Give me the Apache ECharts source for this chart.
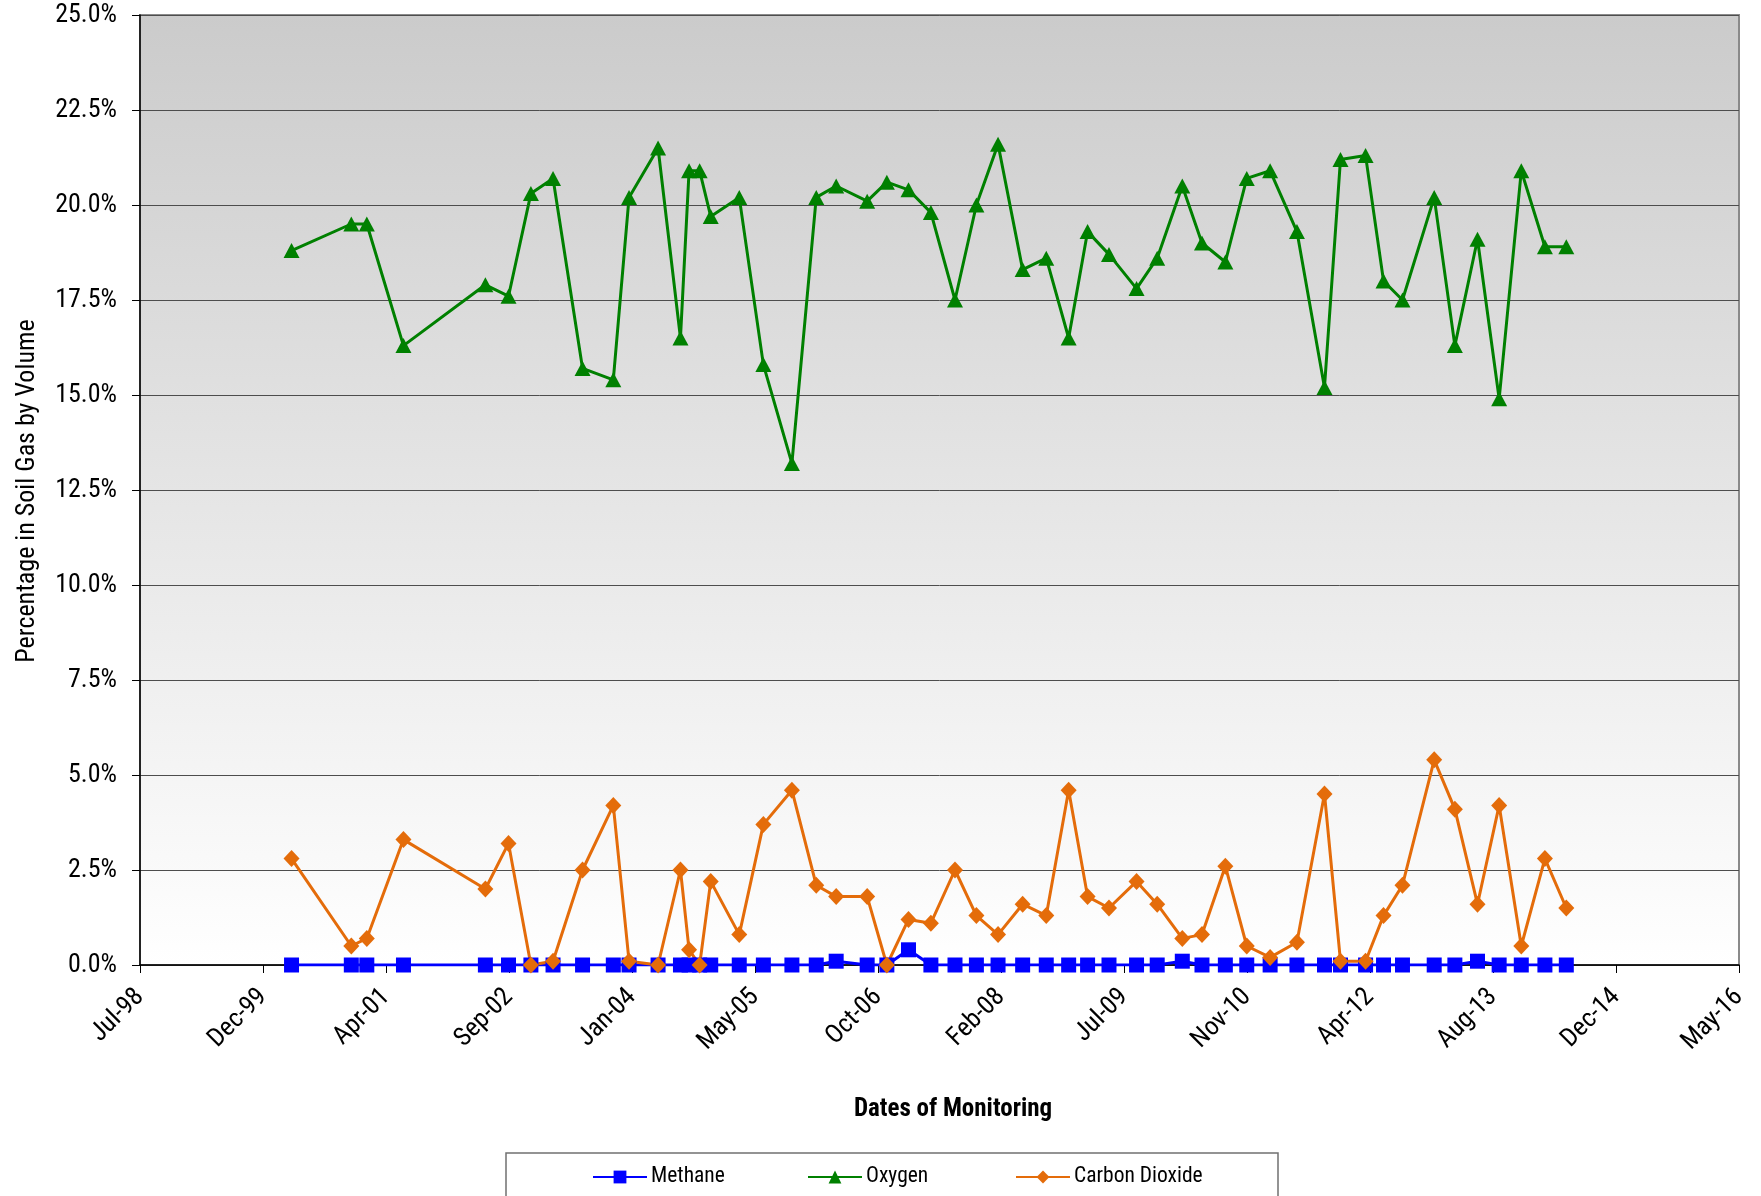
<!DOCTYPE html>
<html>
<head>
<meta charset="utf-8">
<title>Soil Gas Monitoring</title>
<script src="https://cdn.jsdelivr.net/npm/echarts@6/dist/echarts.min.js"></script>
<style>
  html, body { margin: 0; padding: 0; background: #ffffff; }
  #chart { width: 1761px; height: 1196px; }
</style>
</head>
<body>
<div id="chart"></div>
<script>
// Monitoring dates (one sampling event per entry)
const monitoringDates = [
  '2000-03-31', '2000-11-29', '2001-01-31', '2001-06-29', '2002-05-28', '2002-08-30',
  '2002-11-29', '2003-02-27', '2003-06-27', '2003-10-30', '2004-01-02', '2004-04-29',
  '2004-07-29', '2004-09-02', '2004-10-15', '2004-11-29', '2005-03-25', '2005-07-01',
  '2005-10-25', '2006-02-01', '2006-04-23', '2006-08-27', '2006-11-15', '2007-02-11',
  '2007-05-13', '2007-08-19', '2007-11-14', '2008-02-10', '2008-05-20', '2008-08-24',
  '2008-11-23', '2009-02-08', '2009-05-06', '2009-08-26', '2009-11-18', '2010-02-28',
  '2010-05-19', '2010-08-22', '2010-11-17', '2011-02-20', '2011-06-09', '2011-09-29',
  '2011-12-03', '2012-03-14', '2012-05-26', '2012-08-11', '2012-12-18', '2013-03-12',
  '2013-06-12', '2013-09-08', '2013-12-07', '2014-03-13', '2014-06-08'
];

// Percentage by volume
const methane = [
  0, 0, 0, 0, 0, 0, 0, 0, 0, 0, 0, 0, 0, 0, 0, 0, 0, 0,
  0, 0, 0.1, 0, 0, 0.4, 0, 0, 0, 0, 0, 0, 0, 0, 0, 0, 0, 0.1,
  0, 0, 0, 0, 0, 0, 0, 0, 0, 0, 0, 0, 0.1, 0, 0, 0, 0
];
const oxygen = [
  18.8, 19.5, 19.5, 16.3, 17.9, 17.6, 20.3, 20.7, 15.7, 15.4, 20.2, 21.5,
  16.5, 20.9, 20.9, 19.7, 20.2, 15.8, 13.2, 20.2, 20.5, 20.1, 20.6, 20.4,
  19.8, 17.5, 20.0, 21.6, 18.3, 18.6, 16.5, 19.3, 18.7, 17.8, 18.6, 20.5,
  19.0, 18.5, 20.7, 20.9, 19.3, 15.2, 21.2, 21.3, 18.0, 17.5, 20.2, 16.3,
  19.1, 14.9, 20.9, 18.9, 18.9
];
const carbonDioxide = [
  2.8, 0.5, 0.7, 3.3, 2.0, 3.2, 0.0, 0.1, 2.5, 4.2, 0.1, 0.0,
  2.5, 0.4, 0.0, 2.2, 0.8, 3.7, 4.6, 2.1, 1.8, 1.8, 0.0, 1.2,
  1.1, 2.5, 1.3, 0.8, 1.6, 1.3, 4.6, 1.8, 1.5, 2.2, 1.6, 0.7,
  0.8, 2.6, 0.5, 0.2, 0.6, 4.5, 0.1, 0.1, 1.3, 2.1, 5.4, 4.1,
  1.6, 4.2, 0.5, 2.8, 1.5
];

// Date axis, in spreadsheet serial days
const xAxisMin = 36000;
const xAxisMax = 42500;
const xAxisStep = 500;
const yAxisMin = 0;
const yAxisMax = 25;
const yAxisStep = 2.5;

const seriesNames = ['Methane', 'Oxygen', 'Carbon Dioxide'];
const xAxisTitle = 'Dates of Monitoring';
const yAxisTitle = 'Percentage in Soil Gas by Volume';

const MONTHS = ['Jan', 'Feb', 'Mar', 'Apr', 'May', 'Jun', 'Jul', 'Aug', 'Sep', 'Oct', 'Nov', 'Dec'];
const SERIAL_EPOCH = 25569; // serial day of 1970-01-01
const DAY_MS = 86400000;

function toSerial(iso) {
  const p = iso.split('-').map(Number);
  return Date.UTC(p[0], p[1] - 1, p[2]) / DAY_MS + SERIAL_EPOCH;
}
function serialLabel(serial) {
  const d = new Date((serial - SERIAL_EPOCH) * DAY_MS);
  return MONTHS[d.getUTCMonth()] + '-' + String(d.getUTCFullYear() % 100).padStart(2, '0');
}
function pairs(values) {
  return monitoringDates.map((d, i) => [toSerial(d), values[i]]);
}

const FONT = "'Roboto Condensed', 'DejaVu Sans Condensed', sans-serif";

const chart = echarts.init(document.getElementById('chart'), null, { renderer: 'canvas' });

const lineSeries = (name, values, color, symbol, size) => ({
  name: name,
  type: 'line',
  data: pairs(values),
  symbol: symbol,
  symbolSize: size,
  showAllSymbol: true,
  lineStyle: { color: color, width: 3 },
  itemStyle: { color: color },
  emphasis: { disabled: true }
});

const legendItem = (name, left) => ({
  data: [name],
  left: left,
  top: 1166,
  padding: 0,
  itemWidth: 54,
  itemHeight: 16,
  itemGap: 0,
  textStyle: { fontFamily: FONT, fontSize: 21.5, color: '#000000', padding: [0, 0, 0, -1] }
});

chart.setOption({
  animation: false,
  backgroundColor: '#ffffff',
  grid: {
    left: 140, right: 22, top: 15, bottom: 231,
    show: true,
    borderColor: '#8a8a8a',
    borderWidth: 2,
    backgroundColor: {
      type: 'linear', x: 0, y: 0, x2: 0, y2: 1,
      colorStops: [
        { offset: 0, color: '#cbcbcb' },
        { offset: 1, color: '#ffffff' }
      ]
    }
  },
  xAxis: {
    type: 'value',
    min: xAxisMin, max: xAxisMax, interval: xAxisStep,
    axisLine: { show: true, lineStyle: { color: '#000000', width: 1.5 } },
    axisTick: { show: true, inside: false, length: 8, lineStyle: { color: '#000000', width: 1 } },
    splitLine: { show: false },
    axisLabel: {
      rotate: 45,
      margin: 28,
      color: '#000000',
      fontFamily: FONT,
      fontSize: 26,
      formatter: v => serialLabel(v)
    }
  },
  yAxis: {
    type: 'value',
    min: yAxisMin, max: yAxisMax, interval: yAxisStep,
    axisLine: { show: true, lineStyle: { color: '#000000', width: 1.5 } },
    axisTick: { show: true, inside: false, length: 8, lineStyle: { color: '#000000', width: 1 } },
    splitLine: { show: true, lineStyle: { color: '#4d4d4d', width: 1 } },
    axisLabel: {
      margin: 23,
      color: '#000000',
      fontFamily: FONT,
      fontSize: 26,
      formatter: v => v.toFixed(1) + '%'
    }
  },
  legend: [
    legendItem(seriesNames[0], 592),
    legendItem(seriesNames[1], 807),
    legendItem(seriesNames[2], 1015)
  ],
  graphic: [
    {
      type: 'rect',
      z: 0,
      shape: { x: 506, y: 1153, width: 772, height: 60 },
      style: { fill: '#ffffff', stroke: '#707070', lineWidth: 1.5 }
    },
    {
      type: 'text',
      x: 953, y: 1110,
      style: {
        text: xAxisTitle,
        fontFamily: FONT, fontSize: 25, fontWeight: 'bold',
        fill: '#000000', align: 'center', verticalAlign: 'middle'
      }
    },
    {
      type: 'text',
      x: 27, y: 491,
      rotation: Math.PI / 2,
      style: {
        text: yAxisTitle,
        fontFamily: FONT, fontSize: 26,
        fill: '#000000', align: 'center', verticalAlign: 'middle'
      }
    }
  ],
  series: [
    lineSeries(seriesNames[0], methane, '#0000ff', 'rect', 15),
    lineSeries(seriesNames[1], oxygen, '#008000', 'triangle', [16, 15]),
    lineSeries(seriesNames[2], carbonDioxide, '#e46c0a', 'diamond', [16, 17])
  ]
});
</script>
</body>
</html>
